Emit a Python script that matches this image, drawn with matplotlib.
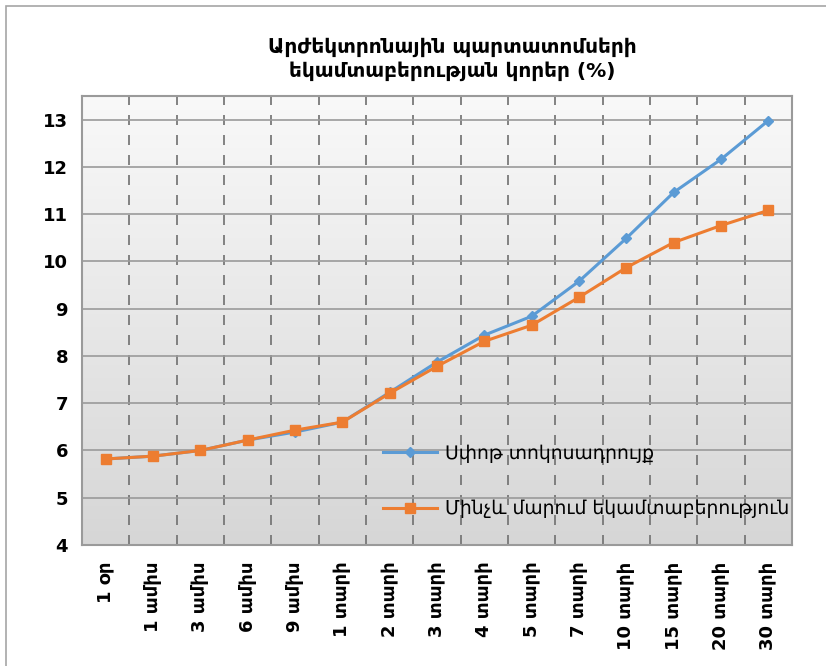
import numpy as np
import matplotlib.pyplot as plt
from matplotlib.patches import Rectangle

# Tenors and yields (%)
tenors = ["1 օր", "1 ամիս", "3 ամիս", "6 ամիս", "9 ամիս", "1 տարի", "2 տարի", "3 տարի",
          "4 տարի", "5 տարի", "7 տարի", "10 տարի", "15 տարի", "20 տարի", "30 տարի"]
spot = [5.82, 5.88, 6.0, 6.22, 6.39, 6.6, 7.23, 7.87, 8.44, 8.84, 9.58, 10.49, 11.46, 12.16, 12.98]
ytm = [5.82, 5.88, 6.0, 6.22, 6.43, 6.6, 7.21, 7.78, 8.31, 8.65, 9.24, 9.87, 10.4, 10.76, 11.08]

title = "Արժեկտրոնային պարտատոմսերի\nեկամտաբերության կորեր (%)"
spot_label = "Սփոթ տոկոսադրույք"
ytm_label = "Մինչև մարում եկամտաբերություն"

plt.rcParams['font.family'] = ['DejaVu Sans']

fig = plt.figure(figsize=(8.26, 6.66), dpi=100)
# outer chart border (right and bottom edges are cut off)
fig.patches.append(Rectangle((6 / 826, -0.1), 1.2, 1 - 6 / 666 + 0.1, transform=fig.transFigure,
                             fill=False, edgecolor='#a6a6a6', linewidth=1.2))

ax = fig.add_axes([82 / 826, 1 - 545 / 666, 710 / 826, 449 / 666])

x = np.arange(len(tenors))

# gradient background of the plot area
grad = np.linspace(0, 1, 256).reshape(-1, 1)
ax.imshow(grad, cmap=plt.matplotlib.colors.LinearSegmentedColormap.from_list('g', ['#f9f9f9', '#d6d6d6']),
          extent=[0, 1, 0, 1], transform=ax.transAxes, aspect='auto', zorder=0)

ax.plot(x, spot, color='#5b9bd5', marker='D', markersize=5, linewidth=2.2, label=spot_label, zorder=3)
ax.plot(x, ytm, color='#ed7d31', marker='s', markersize=7, linewidth=2.2, label=ytm_label, zorder=4)

ax.set_xlim(-0.5, len(tenors) - 0.5)
ax.set_ylim(4, 13.5)
ax.set_yticks(range(4, 14))
ax.set_xticks(x)
ax.set_xticklabels(tenors, rotation=90, fontsize=13, fontweight='bold')
for lab in ax.get_yticklabels():
    lab.set_fontsize(13)
    lab.set_fontweight('bold')
ax.set_xticks(np.arange(0.5, len(tenors) - 1, 1), minor=True)
ax.tick_params(axis='x', which='both', length=0, pad=12)
ax.tick_params(axis='y', which='both', length=0, pad=10)

ax.grid(axis='y', color='#9a9a9a', linewidth=1.2, zorder=1)
ax.grid(axis='x', which='minor', color='#6f6f6f', linestyle=(0, (6, 6)), linewidth=1.2, zorder=1)
ax.set_axisbelow(True)
for s in ax.spines.values():
    s.set_color('#9a9a9a')
    s.set_linewidth(1.5)

fig.text(452 / 826, 1 - 59 / 666, title, ha='center', va='center', fontsize=14.5,
         fontweight='bold', linespacing=1.3)

ax.legend(loc='upper left', bbox_to_anchor=(0.424, 0.226), frameon=False, fontsize=13.5,
          labelspacing=1.95, handlelength=2.9, handletextpad=0.4, borderpad=0, borderaxespad=0)

fig.savefig('out.png', dpi=100)
